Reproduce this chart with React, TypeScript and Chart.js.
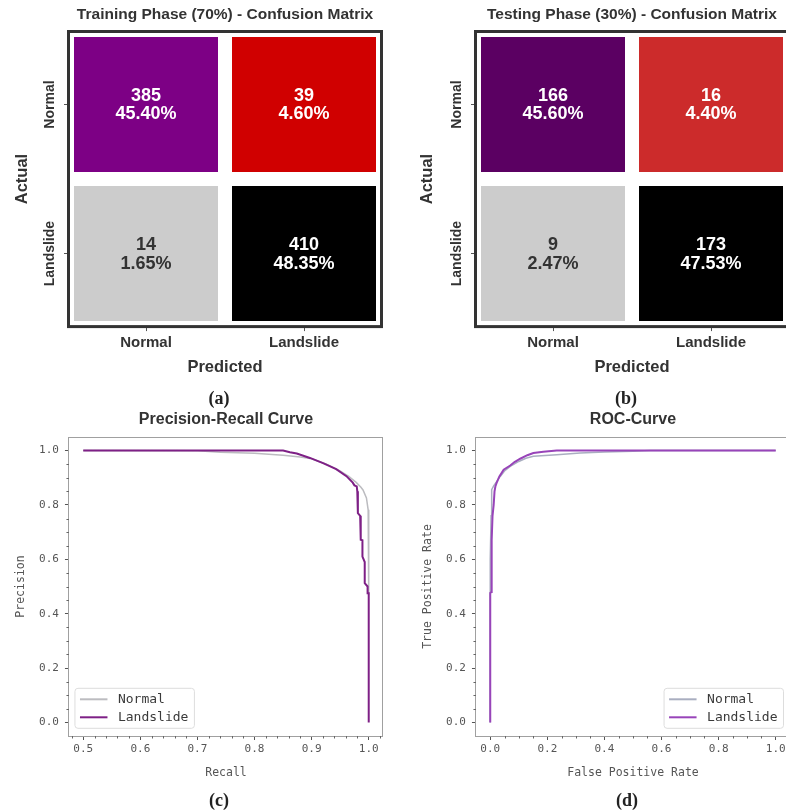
import React, { useEffect, useRef } from 'react';
import { Chart, registerables } from 'chart.js';

Chart.register(...registerables);

// ---------------- data ----------------
const classes = ['Normal', 'Landslide'];
const trainCounts = [
  [385, 39],
  [14, 410],
];
const testCounts = [
  [166, 16],
  [9, 173],
];
const trainTitle = 'Training Phase (70%) - Confusion Matrix';
const testTitle = 'Testing Phase (30%) - Confusion Matrix';

// Precision-Recall curve
const prNormalRecall = [0.5, 0.7, 0.74, 0.8, 0.85, 0.88, 0.9, 0.926, 0.949, 0.965, 0.978, 0.986, 0.99, 0.996, 0.999, 1.0, 1.0];
const prNormalPrecision = [1.0, 0.999, 0.994, 0.99, 0.983, 0.976, 0.97, 0.95, 0.926, 0.905, 0.883, 0.866, 0.855, 0.826, 0.782, 0.764, 0.47];
const prLandRecall = [0.5, 0.85, 0.862, 0.874, 0.897, 0.92, 0.943, 0.961, 0.972, 0.975, 0.979, 0.98, 0.981, 0.985, 0.986, 0.989, 0.989, 0.993, 0.993, 0.998, 0.998, 1.0, 1.0];
const prLandPrecision = [1.0, 1.0, 0.994, 0.989, 0.973, 0.954, 0.932, 0.906, 0.882, 0.872, 0.868, 0.85, 0.77, 0.76, 0.672, 0.67, 0.61, 0.59, 0.512, 0.5, 0.475, 0.475, 0.0];

// ROC curve
const rocNormalFpr = [0, 0, 0.003, 0.005, 0.012, 0.023, 0.035, 0.05, 0.07, 0.1, 0.125, 0.151, 0.233, 0.315, 0.4, 0.5, 0.56, 1.0];
const rocNormalTpr = [0, 0.6, 0.76, 0.856, 0.87, 0.887, 0.905, 0.925, 0.942, 0.96, 0.972, 0.979, 0.985, 0.991, 0.995, 0.998, 1.0, 1.0];
const rocLandFpr = [0, 0, 0.004, 0.005, 0.008, 0.012, 0.015, 0.018, 0.022, 0.032, 0.047, 0.07, 0.085, 0.105, 0.13, 0.151, 0.186, 0.233, 1.0];
const rocLandTpr = [0, 0.476, 0.48, 0.67, 0.76, 0.8, 0.85, 0.868, 0.88, 0.905, 0.93, 0.945, 0.958, 0.97, 0.983, 0.991, 0.996, 1.0, 1.0];

const unitTicks = [0, 0.2, 0.4, 0.6, 0.8, 1.0];
const recallTicks = [0.5, 0.6, 0.7, 0.8, 0.9, 1.0];

// ---------------- styles ----------------
const FONT_SANS = '"Liberation Sans", Arial, Helvetica, sans-serif';
const FONT_MONO = '"DejaVu Sans Mono", monospace';
const DARK = '#333333';

const trainFills = [
  ['#7d0085', '#d00000'],
  ['#cccccc', '#000000'],
];
const testFills = [
  ['#5b0062', '#cc2b2b'],
  ['#cccccc', '#000000'],
];
const cellTextColors = [
  ['#ffffff', '#ffffff'],
  ['#333333', '#ffffff'],
];

// ---------------- plugins ----------------
const cellTextPlugin = {
  id: 'cellText',
  afterDatasetsDraw(chart: any) {
    const ctx = chart.ctx;
    const datasets = chart.data.datasets;
    let total = 0;
    datasets.forEach((ds: any) => ds.counts.forEach((n: number) => (total += n)));
    ctx.save();
    ctx.font = `bold 18px ${FONT_SANS}`;
    ctx.textAlign = 'center';
    ctx.textBaseline = 'middle';
    datasets.forEach((ds: any, di: number) => {
      const meta = chart.getDatasetMeta(di);
      meta.data.forEach((el: any, i: number) => {
        const cx = el.x;
        const cy = (el.y + el.base) / 2;
        const n = ds.counts[i];
        ctx.fillStyle = ds.textColors[i];
        ctx.fillText(String(n), cx, cy - 8.5);
        ctx.fillText(((n / total) * 100).toFixed(2) + '%', cx, cy + 10);
      });
    });
    ctx.restore();
  },
};

const framePlugin = {
  id: 'matrixFrame',
  afterDraw(chart: any) {
    const { ctx, chartArea } = chart;
    ctx.save();
    ctx.strokeStyle = '#333333';
    ctx.lineWidth = 3;
    ctx.strokeRect(chartArea.left + 1.5, chartArea.top + 1.5, chartArea.width - 3, chartArea.height - 3);
    ctx.restore();
  },
};

const rowLabelPlugin = {
  id: 'rowLabels',
  afterDraw(chart: any) {
    const { ctx, chartArea } = chart;
    ctx.save();
    ctx.font = `bold 14px ${FONT_SANS}`;
    ctx.fillStyle = DARK;
    ctx.textAlign = 'center';
    ctx.textBaseline = 'middle';
    chart.data.datasets.forEach((ds: any, di: number) => {
      const el = chart.getDatasetMeta(di).data[0];
      const py = (el.y + el.base) / 2;
      ctx.save();
      ctx.translate(chartArea.left - 16.5, py);
      ctx.rotate(-Math.PI / 2);
      ctx.fillText(ds.label, 0, 0);
      ctx.restore();
    });
    ctx.restore();
  },
};

const spinePlugin = {
  id: 'spines',
  afterDraw(chart: any) {
    const { ctx, chartArea } = chart;
    const l = Math.round(chartArea.left);
    const t = Math.round(chartArea.top);
    const r = Math.round(chartArea.right);
    const b = Math.round(chartArea.bottom);
    ctx.save();
    ctx.strokeStyle = '#a0a0a0';
    ctx.lineWidth = 1;
    ctx.strokeRect(l - 0.5, t + 0.5, r - l, b - t);
    ctx.restore();
  },
};

const minorTickPlugin = {
  id: 'minorTicks',
  afterDraw(chart: any, _args: any, opts: any) {
    const { ctx, chartArea, scales } = chart;
    ctx.save();
    ctx.strokeStyle = '#666666';
    ctx.lineWidth = 1;
    const draw = (scale: any, step: number, horizontal: boolean) => {
      const k0 = Math.ceil(scale.min / step - 1e-9);
      const k1 = Math.floor(scale.max / step + 1e-9);
      const majors = scale.ticks.map((t: any) => scale.getPixelForValue(t.value));
      for (let k = k0; k <= k1; k++) {
        const p = scale.getPixelForValue(k * step);
        if (majors.some((m: number) => Math.abs(m - p) < 0.6)) continue;
        ctx.beginPath();
        if (horizontal) {
          if (p < chartArea.left + 1 || p > chartArea.right - 1) continue;
          const x = Math.round(p) + 0.5;
          ctx.moveTo(x, chartArea.bottom);
          ctx.lineTo(x, chartArea.bottom + 2.5);
        } else {
          if (p < chartArea.top + 1 || p > chartArea.bottom - 1) continue;
          const y = Math.round(p) + 0.5;
          ctx.moveTo(chartArea.left, y);
          ctx.lineTo(chartArea.left - 2.5, y);
        }
        ctx.stroke();
      }
    };
    draw(scales.x, opts.x, true);
    draw(scales.y, opts.y, false);
    ctx.restore();
  },
};

const boxLegendPlugin = {
  id: 'boxLegend',
  afterDatasetsDraw(chart: any, _args: any, opts: any) {
    const { ctx, chartArea } = chart;
    const items = chart.data.datasets;
    ctx.save();
    ctx.font = `13px ${FONT_MONO}`;
    const textW = Math.max(...items.map((d: any) => ctx.measureText(d.label).width));
    const w = 43 + textW + 6;
    const h = 40;
    const x = opts.corner === 'left' ? chartArea.left + 6 : chartArea.right - 6.5 - w;
    const y = chartArea.bottom - 7.7 - h;
    const rad = 3;
    ctx.beginPath();
    ctx.moveTo(x + rad, y);
    ctx.lineTo(x + w - rad, y);
    ctx.quadraticCurveTo(x + w, y, x + w, y + rad);
    ctx.lineTo(x + w, y + h - rad);
    ctx.quadraticCurveTo(x + w, y + h, x + w - rad, y + h);
    ctx.lineTo(x + rad, y + h);
    ctx.quadraticCurveTo(x, y + h, x, y + h - rad);
    ctx.lineTo(x, y + rad);
    ctx.quadraticCurveTo(x, y, x + rad, y);
    ctx.closePath();
    ctx.fillStyle = 'rgba(255,255,255,0.85)';
    ctx.fill();
    ctx.strokeStyle = '#dddddd';
    ctx.lineWidth = 1;
    ctx.stroke();
    ctx.textAlign = 'left';
    ctx.textBaseline = 'middle';
    items.forEach((d: any, i: number) => {
      const cy = y + 11 + i * 18;
      ctx.beginPath();
      ctx.strokeStyle = d.borderColor;
      ctx.lineWidth = 2;
      ctx.moveTo(x + 5, cy);
      ctx.lineTo(x + 32.5, cy);
      ctx.stroke();
      ctx.fillStyle = '#3a3a3a';
      ctx.fillText(d.label, x + 43, cy);
    });
    ctx.restore();
  },
};

// ---------------- config builders ----------------
function buildMatrix(title: string, counts: number[][], fills: string[][], padLeft: number, padRight: number, yTitleBottom: number) {
  const rowOrder = classes.map((_, i) => classes.length - 1 - i); // bottom row first
  const datasets = rowOrder.map((r) => ({
    label: classes[r],
    data: counts[r].map(() => 1),
    counts: counts[r],
    textColors: cellTextColors[r],
    backgroundColor: fills[r],
    borderColor: '#ffffff',
    borderWidth: 7,
    borderSkipped: false,
    inflateAmount: 0,
    barPercentage: 1,
    categoryPercentage: 1,
  }));
  return {
    type: 'bar',
    data: { labels: classes, datasets },
    options: {
      responsive: false,
      maintainAspectRatio: false,
      animation: false,
      events: [],
      layout: { padding: { left: padLeft, right: padRight, top: 0, bottom: 24 } },
      plugins: {
        legend: { display: false },
        tooltip: { enabled: false },
        title: {
          display: true,
          text: title,
          fullSize: false,
          color: DARK,
          font: { family: FONT_SANS, size: 15.5, weight: 'bold' },
          padding: { top: 5.5, bottom: 5.9 },
        },
      },
      scales: {
        x: {
          type: 'category',
          stacked: true,
          offset: true,
          grid: { offset: false, drawOnChartArea: false, drawTicks: true, tickLength: 3, color: '#555555' },
          border: { display: false },
          ticks: { color: DARK, font: { family: FONT_SANS, size: 15, weight: 'bold' }, padding: 2.5, maxRotation: 0 },
          title: {
            display: true,
            text: 'Predicted',
            color: DARK,
            font: { family: FONT_SANS, size: 16.5, weight: 'bold' },
            padding: { top: 3.1, bottom: 4 },
          },
        },
        y: {
          type: 'linear',
          stacked: true,
          min: 0,
          max: classes.length,
          afterBuildTicks: (s: any) => {
            s.ticks = classes.map((_, i) => ({ value: i + 0.5 }));
          },
          grid: { drawOnChartArea: false, drawTicks: true, tickLength: 3, color: '#555555' },
          border: { display: false },
          ticks: { display: false },
          title: {
            display: true,
            text: 'Actual',
            color: DARK,
            font: { family: FONT_SANS, size: 16.5, weight: 'bold' },
            padding: { top: 12.1, bottom: yTitleBottom },
          },
        },
      },
    },
    plugins: [cellTextPlugin, rowLabelPlugin, framePlugin],
  };
}

type Series = { label: string; xs: number[]; ys: number[]; color: string; width: number; order: number };

function buildCurve(opts: {
  title: string;
  xTitle: string;
  yTitle: string;
  series: Series[];
  xMin: number;
  xMax: number;
  xTicks: number[];
  minorX: number;
  corner: string;
  padLeft: number;
  padRight: number;
}) {
  const tickFont = { family: FONT_MONO, size: 11 };
  const titleFont = { family: FONT_MONO, size: 11.5 };
  return {
    type: 'line',
    data: {
      datasets: opts.series.map((s) => ({
        label: s.label,
        data: s.xs.map((x, i) => ({ x, y: s.ys[i] })),
        borderColor: s.color,
        backgroundColor: s.color,
        borderWidth: s.width,
        pointRadius: 0,
        fill: false,
        tension: 0,
        order: s.order,
      })),
    },
    options: {
      responsive: false,
      maintainAspectRatio: false,
      animation: false,
      events: [],
      layout: { padding: { left: opts.padLeft, right: opts.padRight, top: 0, bottom: 27 } },
      plugins: {
        legend: { display: false },
        tooltip: { enabled: false },
        title: {
          display: true,
          text: opts.title,
          fullSize: false,
          color: DARK,
          font: { family: FONT_SANS, size: 16, weight: 'bold' },
          padding: { top: 5.2, bottom: 7.6 },
        },
        minorTicks: { x: opts.minorX, y: 0.05 },
        boxLegend: { corner: opts.corner },
      },
      scales: {
        x: {
          type: 'linear',
          min: opts.xMin,
          max: opts.xMax,
          afterBuildTicks: (s: any) => {
            s.ticks = opts.xTicks.map((v) => ({ value: v }));
          },
          grid: { drawOnChartArea: false, drawTicks: true, tickLength: 4, color: '#555555' },
          border: { display: false },
          ticks: {
            callback: (v: any) => Number(v).toFixed(1),
            color: '#555555',
            font: tickFont,
            padding: 3,
            maxRotation: 0,
            autoSkip: false,
          },
          title: { display: true, text: opts.xTitle, color: '#555555', font: titleFont, padding: { top: 7, bottom: 4 } },
        },
        y: {
          type: 'linear',
          min: -0.05,
          max: 1.05,
          afterBuildTicks: (s: any) => {
            s.ticks = unitTicks.map((v) => ({ value: v }));
          },
          grid: { drawOnChartArea: false, drawTicks: true, tickLength: 4, color: '#555555' },
          border: { display: false },
          ticks: {
            callback: (v: any) => Number(v).toFixed(1),
            color: '#555555',
            font: tickFont,
            padding: 6,
            autoSkip: false,
          },
          title: { display: true, text: opts.yTitle, color: '#555555', font: titleFont, padding: { top: 14.6, bottom: 4.7 } },
        },
      },
    },
    plugins: [spinePlugin, minorTickPlugin, boxLegendPlugin],
  };
}

// ---------------- components ----------------
function ChartCanvas({ config, left, top, width, height }: any) {
  const ref = useRef<HTMLCanvasElement>(null);
  useEffect(() => {
    const chart = new Chart(ref.current as HTMLCanvasElement, config);
    return () => chart.destroy();
  }, []);
  return (
    <canvas
      ref={ref}
      width={width}
      height={height}
      style={{ position: 'absolute', left, top, width, height, display: 'block' }}
    />
  );
}

function PanelLabel({ text, cx, cy }: { text: string; cx: number; cy: number }) {
  return (
    <div
      style={{
        position: 'absolute',
        left: cx - 50,
        top: cy - 11,
        width: 100,
        height: 22,
        lineHeight: '22px',
        textAlign: 'center',
        fontFamily: '"Liberation Serif", "Times New Roman", serif',
        fontWeight: 'bold',
        fontSize: 18,
        color: '#222',
      }}
    >
      {text}
    </div>
  );
}

export default function App() {
  const trainCfg = buildMatrix(trainTitle, trainCounts, trainFills, 0, 10, 32.1);
  const testCfg = buildMatrix(testTitle, testCounts, testFills, 12, 3, 34.1);
  const prCfg = buildCurve({
    title: 'Precision-Recall Curve',
    xTitle: 'Recall',
    yTitle: 'Precision',
    series: [
      { label: 'Normal', xs: prNormalRecall, ys: prNormalPrecision, color: '#bcbcc0', width: 1.5, order: 1 },
      { label: 'Landslide', xs: prLandRecall, ys: prLandPrecision, color: '#7e2086', width: 2, order: 0 },
    ],
    xMin: 0.475,
    xMax: 1.025,
    xTicks: recallTicks,
    minorX: 0.02,
    corner: 'left',
    padLeft: 0,
    padRight: 10,
  });
  const rocCfg = buildCurve({
    title: 'ROC-Curve',
    xTitle: 'False Positive Rate',
    yTitle: 'True Positive Rate',
    series: [
      { label: 'Normal', xs: rocNormalFpr, ys: rocNormalTpr, color: '#a9aec0', width: 1.5, order: 1 },
      { label: 'Landslide', xs: rocLandFpr, ys: rocLandTpr, color: '#9844b9', width: 2, order: 0 },
    ],
    xMin: -0.05,
    xMax: 1.05,
    xTicks: unitTicks,
    minorX: 0.05,
    corner: 'right',
    padLeft: 14,
    padRight: 3,
  });

  return (
    <div
      style={{
        position: 'absolute',
        left: 0,
        top: 0,
        width: 786,
        height: 811,
        overflow: 'hidden',
        background: '#ffffff',
      }}
    >
      <ChartCanvas config={trainCfg} left={0} top={0} width={393} height={405} />
      <ChartCanvas config={testCfg} left={393} top={0} width={400} height={405} />
      <ChartCanvas config={prCfg} left={0} top={405} width={393} height={406} />
      <ChartCanvas config={rocCfg} left={393} top={405} width={400} height={406} />
      <PanelLabel text="(a)" cx={219} cy={398} />
      <PanelLabel text="(b)" cx={626} cy={398} />
      <PanelLabel text="(c)" cx={219} cy={800} />
      <PanelLabel text="(d)" cx={627} cy={800} />
    </div>
  );
}
